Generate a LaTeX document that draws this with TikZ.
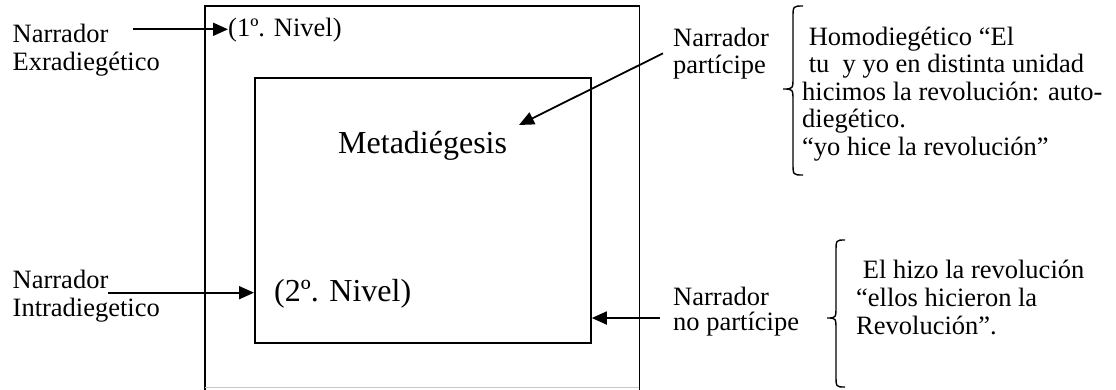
\documentclass[tikz,border=0pt]{standalone}
\usepackage{fontspec}
\setmainfont{Liberation Serif}
\usetikzlibrary{arrows.meta}
\begin{document}
\begin{tikzpicture}[x=1pt,y=-1pt,
  frame/.style={draw=black, line width=1.8pt, inner sep=0pt, anchor=north west},
  edge/.style={line width=1.8pt},
  conn/.style={line width=1.8pt, -{Triangle[length=15pt,width=13pt]}},
  lbl/.style={inner sep=0pt, anchor=base west, align=left},
  small/.style={font=\fontsize{26.5}{#1}\selectfont},
  biglbl/.style={inner sep=0pt, anchor=base west, font=\fontsize{32}{36}\selectfont},
  bracepath/.style={line width=1.4pt}]
\useasboundingbox (0,0) rectangle (1116,389);

% first level: open at the foot of the page
\node[inner sep=0pt, anchor=north west, minimum width=434pt, minimum height=381pt] (outer) at (205,6) {};
\draw[edge] ([yshift=-4pt]outer.south west) -- (outer.north west)
  -- (outer.north east) -- ([yshift=-4pt]outer.south east);
\draw[gray!45, line width=0.8pt] (outer.south west) -- (outer.south east);

% second level
\node[frame, minimum width=336pt, minimum height=265pt] (inner) at (254,77) {};

% level labels (each multi-line label is placed by its last baseline)
\node[lbl, small=20] (niv1) at (228,36) {(1º. Nivel)};
\node[biglbl] (meta) at (338,153) {Metadiégesis};
\node[biglbl] (niv2) at (274,301) {(2º. Nivel)};

% narrators on the left
\node[lbl, small=28] (extra) at (12.5,70.7) {Narrador\\Exradiegético};
\node[lbl, small=28] (intra) at (12.5,316) {Narrador\\Intradiegetico};

% narrators on the right
\node[lbl, small=27] (partic) at (673,73.5) {Narrador\\partícipe};
\node[lbl, small=25] (nopartic) at (673,330) {Narrador\\no partícipe};

% descriptions
\node[lbl, small=27.5] (homo) at (802,155) {\ Homodiegético “El\\\ tu\ \ y yo en distinta unidad\\hicimos la revolución: auto-\\diegético.\\“yo hice la revolución”};
\node[lbl, small=28] (hetero) at (856,334) {\ El hizo la revolución\\“ellos hicieron la\\Revolución”.};

% connector ends
\coordinate (a1) at (133,29.3);
\coordinate (a2) at (108,292.7);
\coordinate (a3) at (660,318);
\coordinate (a4) at (663,53.3);
\coordinate (a4t) at (519,125);

\draw[conn] (a1) -- (a1 -| niv1.west);
\draw[conn] (a2) -- (a2 -| inner.west);
\draw[conn] (a3) -- (a3 -| inner.east);
\draw[conn] (a4) -- (a4t);

% curly braces
\draw[bracepath] (803,6) .. controls (793,6) and (793,6) .. (793,18)
  -- (793,77) .. controls (793,89) and (793,89) .. (783,89)
  .. controls (793,89) and (793,89) .. (793,101)
  -- (793,163) .. controls (793,175) and (793,175) .. (803,175);
\draw[bracepath] (845,240) .. controls (836,240) and (836,240) .. (836,252)
  -- (836,306) .. controls (836,318) and (836,318) .. (827,318)
  .. controls (836,318) and (836,318) .. (836,330)
  -- (836,375) .. controls (836,387) and (836,387) .. (845,387);
\end{tikzpicture}
\end{document}
